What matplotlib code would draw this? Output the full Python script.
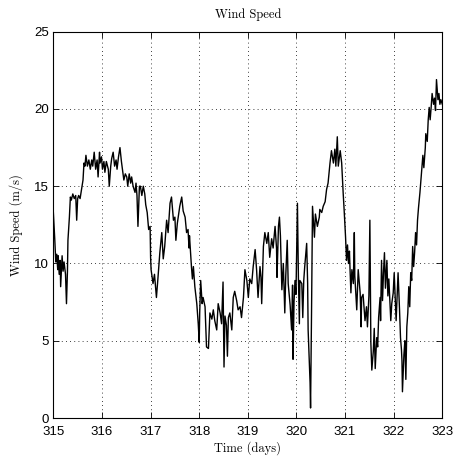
import matplotlib
matplotlib.use('Agg')
import matplotlib.pyplot as plt

# time (days) and wind speed (m/s)
time_315 = [315.00, 315.03, 315.05, 315.07, 315.09, 315.10, 315.12, 315.14, 315.15, 315.18,
            315.20, 315.22, 315.25, 315.27, 315.29, 315.30, 315.33, 315.35, 315.37, 315.40,
            315.43, 315.46, 315.48, 315.50, 315.52, 315.55, 315.58, 315.61, 315.63, 315.65,
            315.67, 315.70, 315.73, 315.76, 315.79, 315.81, 315.84, 315.87, 315.90, 315.92,
            315.95, 315.96, 315.99]
speed_315 = [13.3, 11.5, 10.1, 10.6, 9.6, 10.5, 9.3, 10.2, 8.5, 10.5,
             9.5, 10.1, 9.3, 7.4, 9.5, 11.5, 13.0, 14.3, 14.1, 14.5,
             14.2, 14.4, 12.8, 14.2, 14.4, 14.2, 14.8, 15.4, 16.5, 16.3,
             17.0, 16.3, 16.7, 16.1, 16.7, 16.3, 17.2, 16.1, 16.7, 15.6,
             17.2, 16.5, 16.9]

time_316 = [316.01, 316.04, 316.06, 316.09, 316.13, 316.15, 316.18, 316.20, 316.23, 316.26,
            316.29, 316.31, 316.34, 316.37, 316.40, 316.42, 316.45, 316.48, 316.51, 316.53,
            316.56, 316.59, 316.61, 316.64, 316.68, 316.70, 316.72, 316.74, 316.77, 316.79,
            316.82, 316.85, 316.88, 316.90, 316.93, 316.96, 316.99]
speed_316 = [16.1, 16.6, 15.9, 16.6, 16.1, 15.0, 16.3, 16.8, 17.2, 16.3,
             16.7, 16.1, 16.9, 17.5, 16.6, 16.1, 15.4, 15.8, 15.6, 15.0,
             15.8, 15.2, 15.6, 15.0, 14.6, 15.2, 14.4, 12.4, 15.0, 15.0,
             14.4, 15.0, 14.5, 13.8, 13.3, 12.2, 12.4]

time_317 = [317.00, 317.01, 317.05, 317.08, 317.12, 317.15, 317.19, 317.23, 317.26, 317.29,
            317.33, 317.36, 317.40, 317.43, 317.47, 317.50, 317.52, 317.55, 317.60, 317.64,
            317.67, 317.71, 317.74, 317.77, 317.79, 317.80, 317.84, 317.86, 317.88, 317.91,
            317.95, 317.98]
speed_317 = [10.4, 9.6, 8.7, 9.3, 7.8, 9.0, 10.7, 12.0, 10.3, 11.1,
             12.8, 12.0, 13.9, 14.3, 12.8, 13.0, 11.5, 12.6, 13.7, 14.3,
             13.4, 13.0, 12.0, 12.2, 11.0, 11.8, 9.8, 9.0, 9.8, 8.5,
             7.4, 6.1]

time_318 = [318.00, 318.01, 318.03, 318.06, 318.08, 318.12, 318.15, 318.19, 318.22, 318.26,
            318.29, 318.32, 318.36, 318.39, 318.43, 318.46, 318.49, 318.51, 318.53, 318.56,
            318.58, 318.60, 318.63, 318.67, 318.70, 318.73, 318.77, 318.80, 318.84, 318.87,
            318.91, 318.94, 318.98]
speed_318 = [4.9, 6.8, 8.9, 7.4, 7.8, 7.2, 4.6, 4.5, 6.8, 6.4,
             7.0, 6.3, 5.7, 7.4, 6.8, 6.1, 8.8, 3.3, 6.6, 6.0,
             4.0, 6.5, 6.8, 5.7, 7.8, 8.2, 7.6, 7.0, 7.2, 6.5,
             7.8, 9.6, 8.9]

time_319 = [319.01, 319.04, 319.08, 319.11, 319.15, 319.18, 319.21, 319.25, 319.27, 319.285,
            319.32, 319.35, 319.39, 319.42, 319.45, 319.49, 319.52, 319.56, 319.59, 319.60,
            319.63, 319.65, 319.67, 319.70, 319.73, 319.76, 319.78, 319.81, 319.83, 319.87,
            319.90, 319.92, 319.93, 319.95, 319.97, 319.99]
speed_319 = [7.8, 9.0, 8.7, 9.8, 10.9, 9.6, 7.8, 9.8, 9.1, 7.4,
             11.1, 12.0, 11.3, 12.0, 10.4, 11.6, 11.0, 12.4, 11.0, 9.1,
             12.4, 13.0, 11.8, 8.3, 10.0, 6.8, 9.2, 11.5, 8.7, 7.3,
             5.7, 8.6, 3.8, 7.5, 8.9, 8.0]

time_320 = [320.02, 320.04, 320.06, 320.07, 320.11, 320.13, 320.15, 320.17, 320.21, 320.23,
            320.24, 320.28, 320.29, 320.31, 320.33, 320.35, 320.37, 320.39, 320.43, 320.47,
            320.48, 320.52, 320.55, 320.59, 320.62, 320.65, 320.69, 320.72, 320.76, 320.79,
            320.81, 320.84, 320.86, 320.90, 320.93, 320.96, 320.98]
speed_320 = [13.9, 9.1, 6.1, 8.9, 8.7, 6.5, 8.9, 9.8, 11.3, 8.7,
             5.7, 2.3, 0.65, 6.8, 13.7, 12.7, 11.7, 13.2, 12.4, 13.0,
             13.5, 13.3, 13.7, 14.0, 14.8, 15.2, 16.5, 17.3, 16.5, 17.4,
             16.3, 18.2, 16.3, 17.3, 16.5, 14.6, 13.5]

time_321 = [321.01, 321.03, 321.05, 321.07, 321.09, 321.10, 321.12, 321.14, 321.17, 321.19,
            321.20, 321.24, 321.26, 321.27, 321.31, 321.33, 321.34, 321.37, 321.41, 321.44,
            321.46, 321.49, 321.51, 321.53, 321.55, 321.58, 321.60, 321.62, 321.65, 321.67,
            321.69, 321.72, 321.73, 321.75, 321.77, 321.79, 321.81, 321.83, 321.86, 321.88,
            321.90, 321.92, 321.94, 321.96, 321.99]
speed_321 = [11.7, 10.2, 11.2, 10.0, 10.8, 9.8, 8.1, 9.6, 8.7, 12.0,
             9.2, 7.0, 8.7, 9.6, 8.1, 5.9, 7.8, 8.0, 6.3, 7.2,
             5.9, 7.9, 12.8, 4.9, 3.1, 4.3, 5.8, 3.2, 5.2, 4.6,
             6.5, 7.8, 6.3, 10.2, 7.6, 9.4, 10.7, 8.4, 10.2, 7.9,
             9.0, 7.6, 6.3, 7.4, 8.1]

time_322 = [322.01, 322.03, 322.05, 322.07, 322.09, 322.12, 322.14, 322.16, 322.17, 322.18,
            322.21, 322.23, 322.25, 322.27, 322.29, 322.31, 322.33, 322.35, 322.37, 322.39,
            322.41, 322.43, 322.45, 322.47, 322.49, 322.51, 322.54, 322.56, 322.58, 322.60,
            322.62, 322.65, 322.66, 322.69, 322.71, 322.73, 322.75, 322.77, 322.79, 322.82,
            322.84, 322.86, 322.88, 322.91, 322.93, 322.95, 322.97, 323.00]
speed_322 = [9.4, 7.8, 6.3, 7.8, 9.4, 7.0, 5.2, 4.4, 3.7, 1.7,
             4.1, 5.0, 2.5, 5.9, 6.8, 8.5, 7.2, 9.4, 8.9, 11.1,
             9.8, 10.7, 12.0, 11.2, 12.8, 13.6, 14.6, 15.4, 16.2, 17.0,
             16.2, 17.5, 18.4, 17.9, 19.3, 20.1, 19.3, 20.1, 21.0, 20.3,
             20.7, 19.9, 21.9, 20.6, 21.0, 20.3, 20.6, 20.3]

time_days = time_315 + time_316 + time_317 + time_318 + time_319 + time_320 + time_321 + time_322
wind_speed = speed_315 + speed_316 + speed_317 + speed_318 + speed_319 + speed_320 + speed_321 + speed_322

x_ticks = [315, 316, 317, 318, 319, 320, 321, 322, 323]
y_ticks = [0, 5, 10, 15, 20, 25]

# matlab look: helvetica-ish tick numbers, computer modern labels
plt.rcParams['font.family'] = 'Liberation Sans'
label_font = {'family': 'cmr10', 'size': 9}

fig = plt.figure(figsize=(4.56, 4.62), dpi=100)
ax = fig.add_axes([0.117, 0.0952, 0.853, 0.8362])

ax.plot(time_days, wind_speed, color='black', linewidth=1.0)

ax.set_xlim(315, 323)
ax.set_ylim(0, 25)
ax.set_xticks(x_ticks)
ax.set_yticks(y_ticks)
ax.tick_params(direction='in', length=4, width=0.6, top=True, right=True, labelsize=9.5)
ax.tick_params(axis='x', pad=6)
ax.tick_params(axis='y', pad=3)
for spine in ax.spines.values():
    spine.set_linewidth(0.8)
ax.grid(True, color='black', linestyle=(0, (1, 4)), linewidth=0.6)

ax.set_title('Wind Speed', fontdict=label_font, pad=10)
ax.set_xlabel('Time (days)', fontdict=label_font, labelpad=2)
ax.set_ylabel('Wind Speed (m/s)', fontdict=label_font, labelpad=8)

fig.savefig('out.png', dpi=100)
